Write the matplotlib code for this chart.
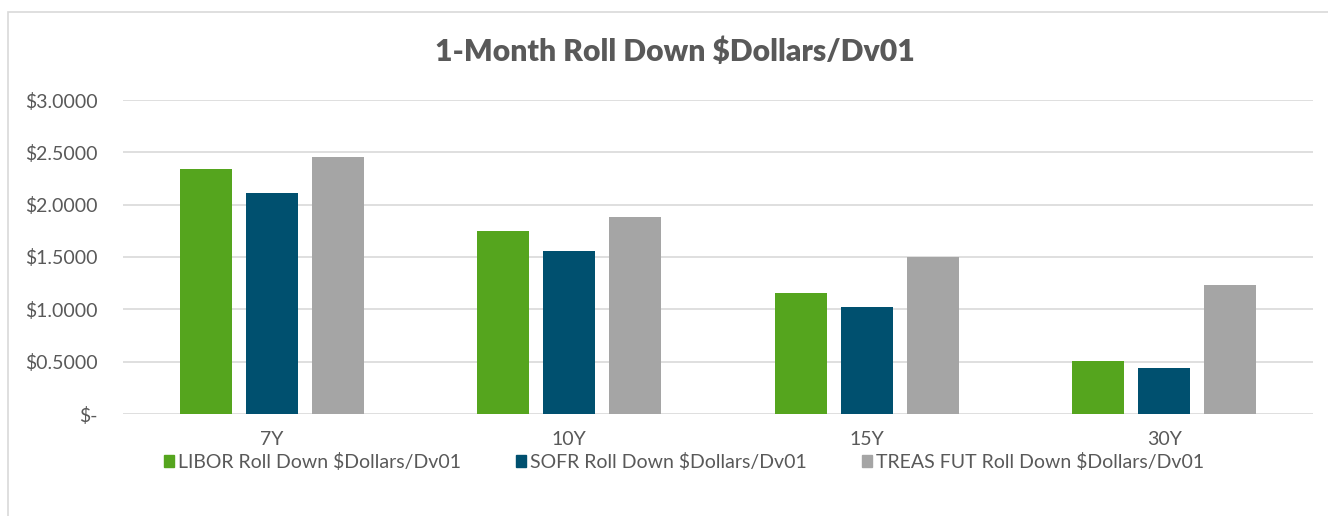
import numpy as np
import matplotlib
matplotlib.use("Agg")
import matplotlib.pyplot as plt
from matplotlib.patches import Rectangle, Patch
from matplotlib.ticker import FuncFormatter

plt.rcParams['font.family'] = ['Lato', 'DejaVu Sans']

# Dados
tenores = ['7Y', '10Y', '15Y', '30Y']
libor = [2.34, 1.75, 1.16, 0.51]
sofr = [2.11, 1.56, 1.02, 0.44]
treas = [2.46, 1.88, 1.50, 1.23]
series_nomes = ['LIBOR Roll Down $Dollars/Dv01',
                'SOFR Roll Down $Dollars/Dv01',
                'TREAS FUT Roll Down $Dollars/Dv01']
cores = ['#55a51e', '#00506f', '#a5a5a5']
texto_cor = '#595959'

fig = plt.figure(figsize=(13.28, 5.16), dpi=100)
ax = fig.add_axes([123 / 1328, 1 - 414 / 516, (1313 - 123) / 1328, (414 - 100) / 516])

# Borda do gráfico
fig.patches.append(Rectangle((8 / 1328, -0.1), 1.2, 1 - 12 / 516 + 0.1,
                             transform=fig.transFigure, fill=False,
                             edgecolor='#d9d9d9', linewidth=1.2))

x = np.arange(len(tenores))
largura = 0.175
passo = 0.2215
for i, (vals, cor) in enumerate(zip([libor, sofr, treas], cores)):
    ax.bar(x + (i - 1) * passo, vals, width=largura, color=cor, zorder=3)

ax.set_xlim(-0.5, len(tenores) - 0.5)
ax.set_ylim(0, 3.0)
ax.set_yticks(np.arange(0, 3.01, 0.5))
ax.yaxis.set_major_formatter(FuncFormatter(lambda v, p: '$-' if v == 0 else f'${v:.4f}'))
ax.set_xticks(x)
ax.set_xticklabels(tenores)
ax.grid(axis='y', color='#d9d9d9', linewidth=1.2, zorder=0)
for s in ax.spines.values():
    s.set_visible(False)
ax.tick_params(axis='both', length=0, labelsize=14, labelcolor=texto_cor)
ax.tick_params(axis='y', pad=18)
ax.tick_params(axis='x', pad=12)

fig.text(675 / 1328, 1 - 52 / 516, '1-Month Roll Down $Dollars/Dv01',
         ha='center', va='center', fontsize=21.7, fontweight='heavy', color=texto_cor)

handles = [Patch(color=c) for c in cores]
fig.legend(handles, series_nomes, loc='center', bbox_to_anchor=(684 / 1328, 1 - 462 / 516),
           ncol=3, frameon=False, fontsize=14, labelcolor=texto_cor,
           handlelength=0.55, handleheight=0.55, handletextpad=0.2, columnspacing=2.8)

fig.savefig('out.png', dpi=100)
